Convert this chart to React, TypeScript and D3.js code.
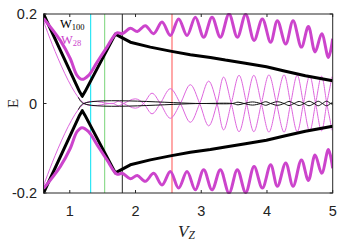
import React from "react";
import * as d3 from "d3";

// Thick black (W100) lowest state, upper branch (mirrored below)
const blackV = [0.6, 1.15, 1.19, 1.23, 1.693, 1.921, 2.225, 2.53, 2.834, 3.139, 3.367, 3.672, 3.991, 4.28, 4.584, 4.813, 5.0];
const blackE = [0.2, 0.026, 0.016, 0.026, 0.155, 0.137, 0.126, 0.117, 0.109, 0.103, 0.097, 0.09, 0.082, 0.072, 0.062, 0.056, 0.051];

// Thick magenta (W28) upper branch (mirrored below)
const magV = [0.6, 0.855, 1.008, 1.11, 1.186, 1.286, 1.414, 1.566, 1.718, 1.799, 1.921, 2.027, 2.149, 2.276, 2.403, 2.53, 2.656, 2.784, 2.91, 3.037, 3.164, 3.291, 3.423, 3.549, 3.676, 3.804, 3.93, 4.056, 4.158, 4.285, 4.397, 4.524, 4.63, 4.732, 4.833, 4.935, 5.0];
const magE = [0.19, 0.141, 0.1, 0.063, 0.054, 0.063, 0.092, 0.126, 0.158, 0.156, 0.168, 0.161, 0.174, 0.156, 0.182, 0.152, 0.189, 0.152, 0.193, 0.148, 0.193, 0.148, 0.2, 0.148, 0.199, 0.141, 0.189, 0.137, 0.185, 0.133, 0.185, 0.126, 0.172, 0.115, 0.156, 0.103, 0.145];

// Thin magenta (W28) near-zero mode (signed, mirrored)
const magThinV = [0.6, 1.22, 1.6, 1.66, 1.74, 1.82, 2.0, 2.123, 2.251, 2.377, 2.53, 2.682, 2.834, 2.976, 3.113, 3.24, 3.34, 3.457, 3.575, 3.69, 3.8, 3.915, 4.03, 4.145, 4.26, 4.36, 4.46, 4.555, 4.65, 4.74, 4.83, 4.91, 4.99];
const magThinE = [0.184, 0.0, 0.0, 0.0, 0.005, 0.0, -0.0105, 0.0, 0.023, 0.0, -0.033, 0.0, 0.042, 0.0, -0.05, 0.0, 0.059, 0.0, -0.063, 0.0, 0.063, 0.0, -0.064, 0.0, 0.064, 0.0, -0.063, 0.0, 0.062, 0.0, -0.061, 0.0, 0.06];

// Thin black (W100) near-zero mode (signed, mirrored)
const blackThinV = [1.13, 1.21, 3.0, 3.473, 3.56, 3.651, 3.78, 3.904, 3.98, 4.056, 4.16, 4.26, 4.335, 4.412, 4.49, 4.565, 4.64, 4.717, 4.78, 4.843, 4.905, 4.97, 5.0];
const blackThinE = [0.014, 0.0, 0.0, 0.0, 0.003, 0.0, -0.0035, 0.0, 0.004, 0.0, -0.004, 0.0, 0.0045, 0.0, -0.0045, 0.0, 0.005, 0.0, -0.005, 0.0, 0.005, 0.0, -0.003];

const vLinePos = [1.317, 1.53, 1.8, 2.555];
const vLineColors = ["#2ee6f5", "#8fdc8f", "#4a4a4a", "#ff6e6e"];

const xTicks = [1, 2, 3, 4, 5];
const yTicks = [-0.2, 0, 0.2];
const yTickLabels = ["-0.2", "0", "0.2"];

const W = 340, H = 243;
const L = 43.5, R = 332.7, T = 14, B = 193;

export default function App() {
  const x = d3.scaleLinear().domain([0.6, 5]).range([L, R]);
  const y = d3.scaleLinear().domain([-0.2, 0.2]).range([B, T]);

  const mk = (vs: number[], es: number[], sign: number) =>
    vs.map((v, i) => [v, sign * es[i]] as [number, number]);

  const smooth = d3.line<[number, number]>().x(d => x(d[0])).y(d => y(d[1])).curve(d3.curveCatmullRom.alpha(0.5));
  const lin = d3.line<[number, number]>().x(d => x(d[0])).y(d => y(d[1]));

  const magenta = "#cc44cc";
  const magThin = "#dd66dd";
  const axisCol = "#262626";

  return (
    <svg width={W} height={H} style={{ position: "absolute", left: 0, top: 0, background: "#fff" }}>
      <defs>
        <clipPath id="plotclip">
          <rect x={L} y={T - 1} width={R - L} height={B - T + 2} />
        </clipPath>
      </defs>
      <rect x={0} y={0} width={W} height={H} fill="#fff" />
      <g clipPath="url(#plotclip)">
        {vLinePos.map((v, i) => (
          <line key={i} x1={x(v)} x2={x(v)} y1={T} y2={B} stroke={vLineColors[i]} strokeWidth={1.2} />
        ))}
        {[1, -1].map(s => (
          <path key={"mt" + s} d={smooth(mk(magThinV, magThinE, s)) || ""} fill="none" stroke={magThin} strokeWidth={1} />
        ))}
        {[1, -1].map(s => (
          <path key={"bt" + s} d={smooth(mk(blackThinV, blackThinE, s)) || ""} fill="none" stroke="#111" strokeWidth={1} />
        ))}
        {[1, -1].map(s => (
          <path key={"b" + s} d={lin(mk(blackV, blackE, s)) || ""} fill="none" stroke="#000" strokeWidth={3} strokeLinejoin="round" />
        ))}
        {[1, -1].map(s => (
          <path key={"m" + s} d={smooth(mk(magV, magE, s)) || ""} fill="none" stroke={magenta} strokeWidth={3} strokeLinejoin="round" />
        ))}
      </g>
      {/* box */}
      <rect x={L} y={T} width={R - L} height={B - T} fill="none" stroke={axisCol} strokeWidth={1} />
      {xTicks.map(t => (
        <g key={"xt" + t}>
          <line x1={x(t)} x2={x(t)} y1={B} y2={B - 3} stroke={axisCol} />
          <line x1={x(t)} x2={x(t)} y1={T} y2={T + 3} stroke={axisCol} />
          <text x={x(t)} y={216} textAnchor="middle" fontFamily="Liberation Sans, Arial, sans-serif" fontSize={14.5} fill="#222">{t}</text>
        </g>
      ))}
      {yTicks.map((t, i) => (
        <g key={"yt" + t}>
          <line x1={L} x2={L + 3} y1={y(t)} y2={y(t)} stroke={axisCol} />
          <line x1={R} x2={R - 3} y1={y(t)} y2={y(t)} stroke={axisCol} />
          <text x={37} y={y(t) + 5} textAnchor="end" fontFamily="Liberation Sans, Arial, sans-serif" fontSize={14.5} fill="#222">{yTickLabels[i]}</text>
        </g>
      ))}
      {/* axis labels */}
      <text transform={`translate(17.5,${y(0)}) rotate(-90)`} textAnchor="middle" fontFamily="Liberation Serif, Times New Roman, serif" fontSize={15} fill="#222">E</text>
      <text x={178} y={236.5} fontFamily="Liberation Serif, Times New Roman, serif" fontStyle="italic" fontSize={17} fill="#222">
        V<tspan fontSize={11.5} dy={2}>Z</tspan>
      </text>
      {/* legend */}
      <text x={60} y={28} fontFamily="Liberation Serif, Times New Roman, serif" fontSize={12.5} fill="#000">
        W<tspan fontSize={8.5} dy={1.5}>100</tspan>
      </text>
      <text x={61} y={44} fontFamily="Liberation Serif, Times New Roman, serif" fontSize={12.5} fill={magenta}>
        W<tspan fontSize={8.5} dy={1.5}>28</tspan>
      </text>
    </svg>
  );
}
